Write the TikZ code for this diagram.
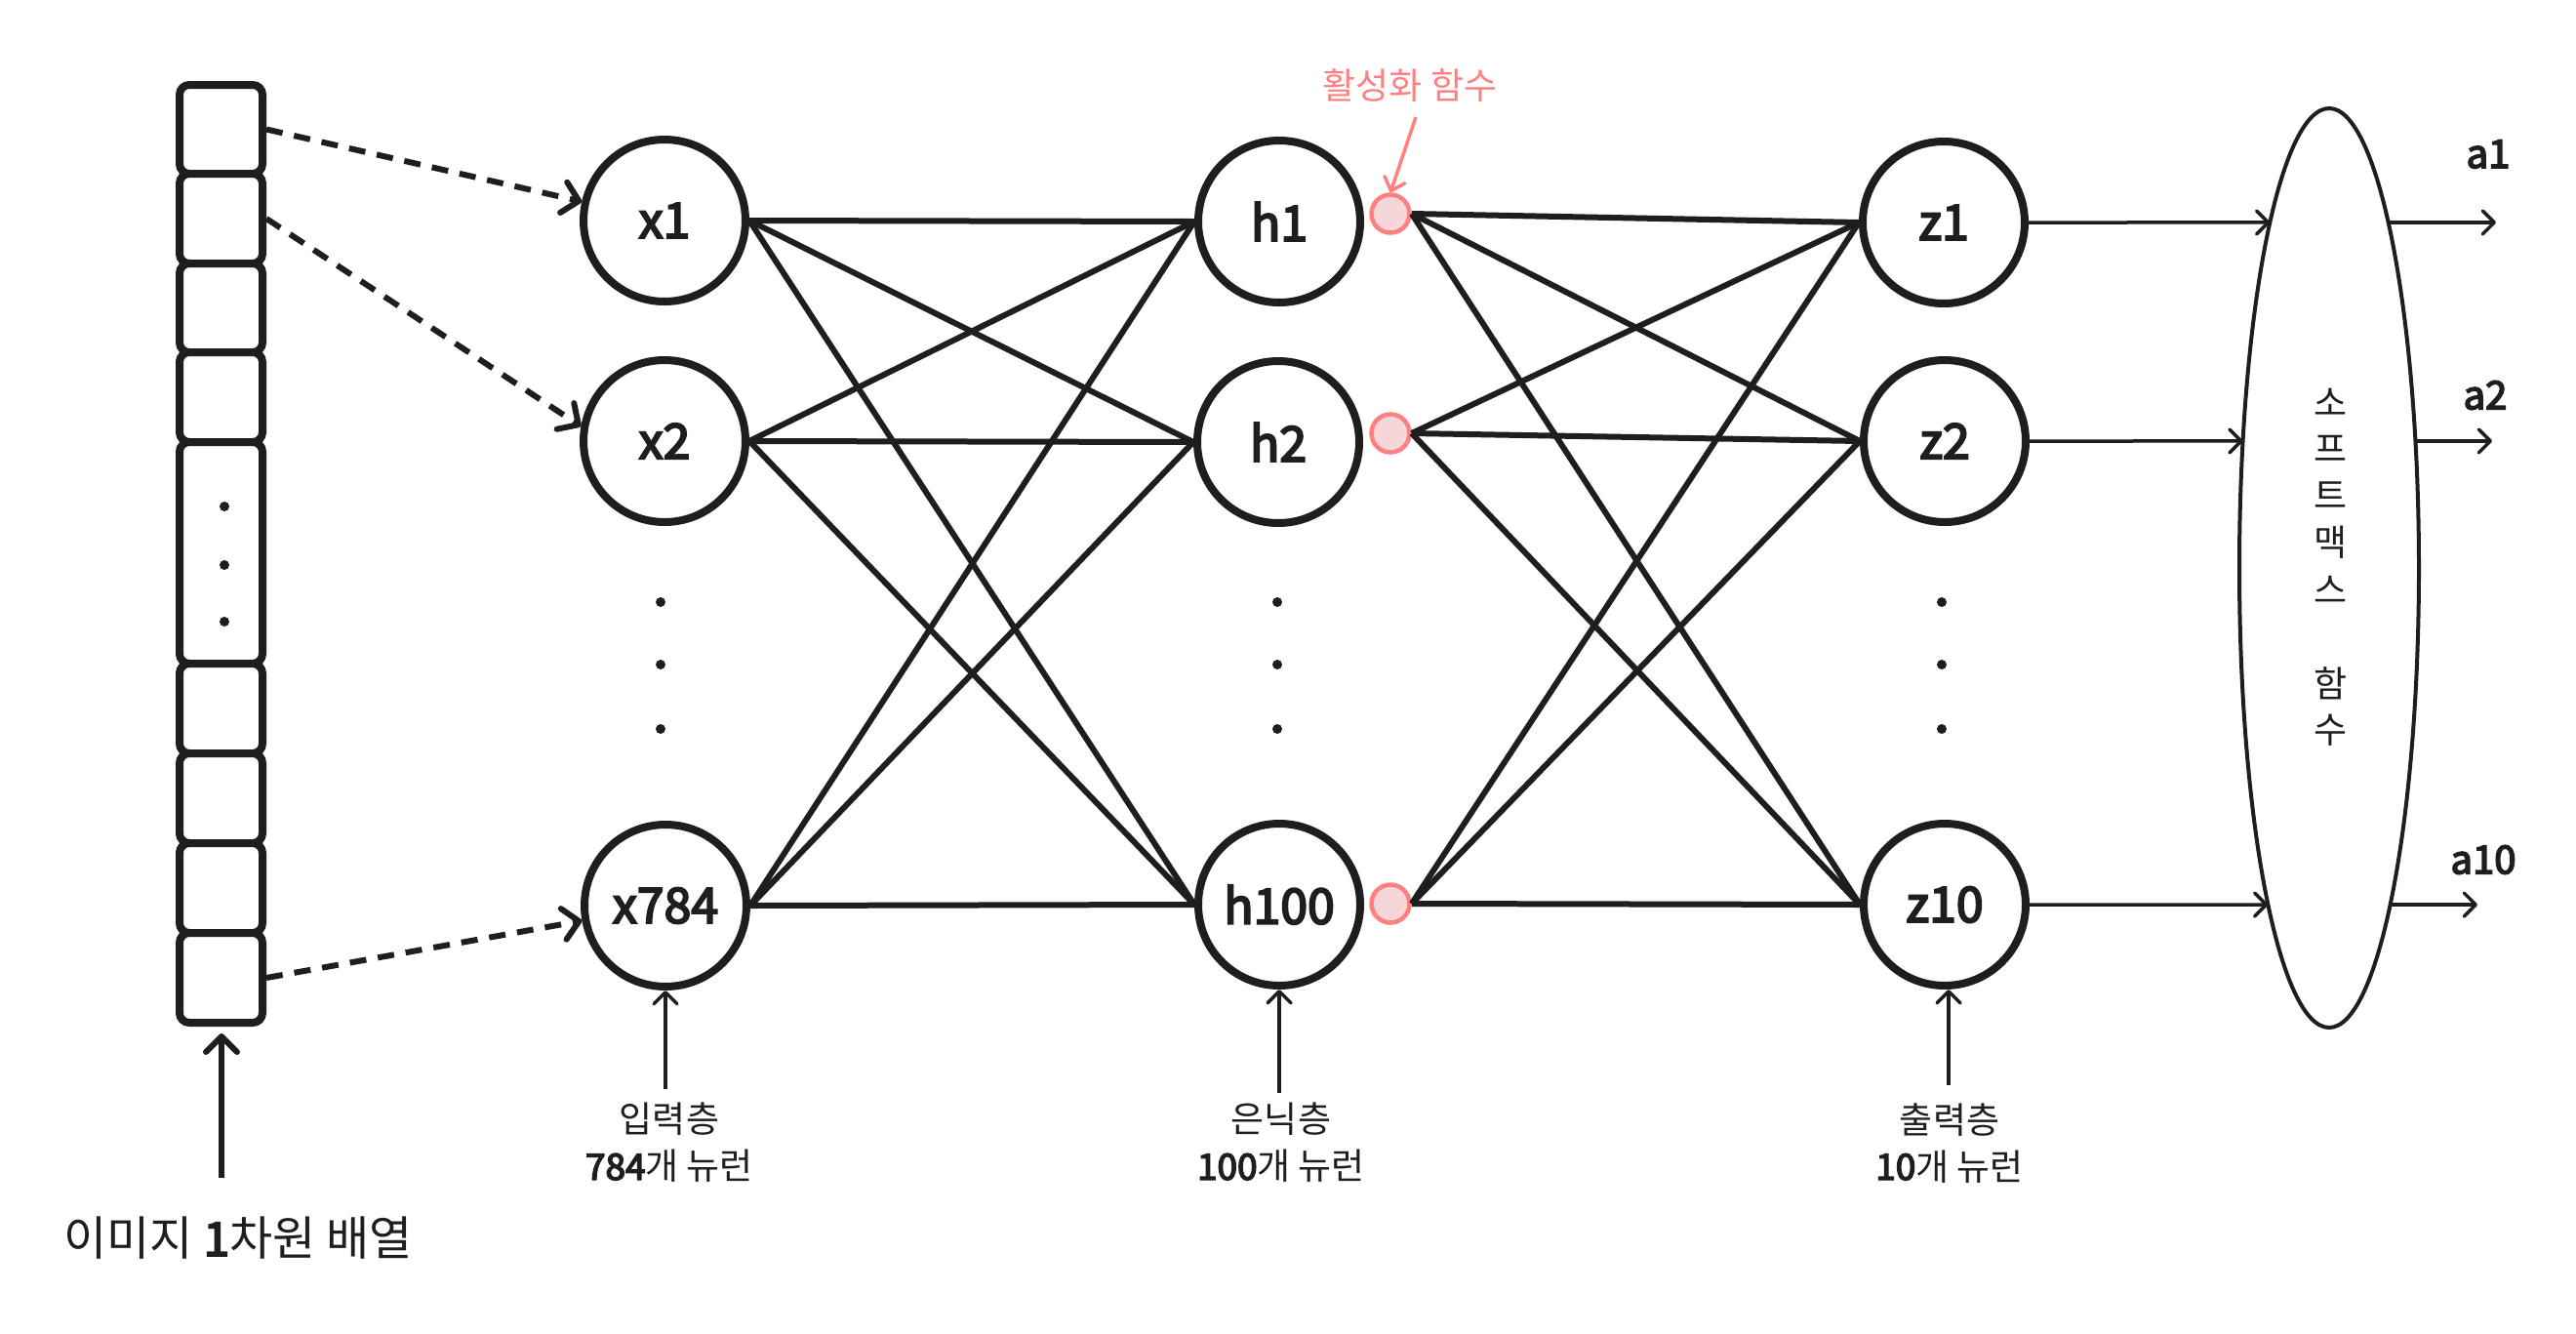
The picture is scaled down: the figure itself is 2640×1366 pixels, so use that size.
\documentclass[tikz,border=0pt]{standalone}
\usepackage{fontspec}
\setmainfont{Noto Sans CJK KR}
\newfontfamily\hand[FakeBold=4]{Noto Sans CJK KR}
\usetikzlibrary{arrows.meta,shapes.geometric,intersections}
\definecolor{ink}{HTML}{1E1E1E}
\definecolor{coral}{HTML}{FF8080}
\definecolor{pinkfill}{HTML}{F6D6D9}
\begin{document}
\begin{tikzpicture}[x=1pt,y=-1pt,
  neuron/.style={circle, draw=ink, line width=8pt, fill=white, minimum size=166pt, inner sep=0pt, font=\hand\fontsize{50}{56}\selectfont, text=ink},
  actc/.style={circle, draw=coral, line width=4.5pt, fill=pinkfill, minimum size=39pt, inner sep=0pt},
  cell/.style={rectangle, rounded corners=10pt, draw=ink, line width=8pt, fill=white, minimum width=85pt, inner sep=0pt},
  wire/.style={draw=ink, line width=6pt},
  dasharrow/.style={draw=ink, line width=6pt, dash pattern=on 17pt off 12pt, -{Straight Barb[length=16pt,width=32pt,line width=6pt,line cap=round,line join=round]}},
  thinarrow/.style={draw=ink, line width=3.5pt, -{Straight Barb[length=12pt,width=24pt,line width=3.5pt,line cap=round,line join=round]}},
  bigarrow/.style={draw=ink, line width=6pt, -{Straight Barb[length=16pt,width=32pt,line width=6pt,line cap=round,line join=round]}},
  redarrow/.style={draw=coral, line width=3.5pt, -{Straight Barb[length=12pt,width=22pt,line width=3.5pt,line cap=round,line join=round]}},
  softmax/.style={ellipse, draw=ink, line width=4pt, fill=white, minimum width=184pt, minimum height=942pt, inner sep=0pt},
  lbl/.style={font=\fontsize{37}{48}\selectfont, text=ink, align=center, inner sep=0pt},
  smch/.style={font=\fontsize{37}{40}\selectfont, text=ink, inner sep=0pt},
  outl/.style={font=\hand\fontsize{40}{44}\selectfont, text=ink, inner sep=0pt},
  dotc/.style={fill=ink}
]
\useasboundingbox[fill=white] (0,0) rectangle (2640,1366);

% image column
\foreach \n/\t/\b in {b1/87/178, b2/178/270, b3/270/361, b4/361/453, b5/453/680, b6/680/772, b7/772/864, b8/864/956, b9/956/1048}
  \node[cell, minimum height={\b-\t}] (\n) at (226.5, {(\t+\b)/2}) {};
\foreach \y in {519,579,637} \fill[dotc] (230,\y) circle (5pt);

% neurons
\node[neuron] (x1) at (681,226) {x1};
\node[neuron] (x2) at (681,452) {x2};
\node[neuron] (x784) at (682,928) {x784};
\node[neuron] (h1) at (1311,227) {h1};
\node[neuron] (h2) at (1310,453) {h2};
\node[neuron] (h100) at (1311,927) {h100};
\node[actc] (r1) at (1425,219) {};
\node[actc] (r2) at (1425,444) {};
\node[actc] (r100) at (1425,926) {};
\node[neuron] (z1) at (1992,228) {z1};
\node[neuron] (z2) at (1993,452) {z2};
\node[neuron] (z10) at (1993,927) {z10};

\foreach \x in {677,1309,1990}
  \foreach \y in {617,681,747} \fill[dotc] (\x,\y) circle (5pt);

% connections
\foreach \a in {x1,x2,x784}
  \foreach \b in {h1,h2,h100}
    \draw[wire] (\a.east) -- (\b.west);
\foreach \a in {r1,r2,r100}
  \foreach \b in {z1,z2,z10}
    \draw[wire] (\a.east) -- (\b.west);

% dashed arrows
\draw[dasharrow] (b1.east) -- (x1);
\draw[dasharrow] (b2.east) -- (x2.170);
\draw[dasharrow] (b9.east) -- (x784);

% softmax
\node[softmax, name path=smpath] (sm) at (2387,582) {};
\foreach \c/\y [count=\i] in {소/412, 프/460, 트/508, 맥/556, 스/604, 함/700, 수/748}
  \node[smch] (s\i) at (2388,\y) {\c};

\path[name path=hla] (z1.east) -- ++(700,0);
\path[name path=hlb] (z2.east) -- ++(700,0);
\path[name path=hlc] (z10.east) -- ++(700,0);
\path[name intersections={of=hla and smpath, sort by=hla, name=ia}];
\path[name intersections={of=hlb and smpath, sort by=hlb, name=ib}];
\path[name intersections={of=hlc and smpath, sort by=hlc, name=ic}];
\coordinate (oa) at (2558,0);
\coordinate (ob) at (2554,0);
\coordinate (oc) at (2539,0);
\draw[thinarrow] (z1.east) -- (ia-1);
\draw[thinarrow] (z2.east) -- (ib-1);
\draw[thinarrow] (z10.east) -- (ic-1);
\draw[thinarrow] (ia-2) -- (ia-2 -| oa);
\draw[thinarrow] (ib-2) -- (ib-2 -| ob);
\draw[thinarrow] (ic-2) -- (ic-2 -| oc);

\node[outl] (a1) at (2550,158) {a1};
\node[outl] (a2) at (2547,405) {a2};
\node[outl] (a10) at (2545,881) {a10};

% activation label
\node[font=\fontsize{37}{40}\selectfont, text=coral, inner sep=0pt] (act) at (1445,87) {활성화 함수};
\coordinate (acttail) at (1451,120);
\draw[redarrow] (acttail) -- (r1.north);

% layer labels
\node[lbl, anchor=north] (labin) at (686,1130) {입력층\\{\hand 784}개 뉴런};
\node[lbl, anchor=north] (labh) at (1313,1130) {은닉층\\{\hand 100}개 뉴런};
\node[lbl, anchor=north] (labz) at (1998,1130) {출력층\\{\hand 10}개 뉴런};
\coordinate (tin) at (682,1116);
\coordinate (th) at (1311,1120);
\coordinate (tz) at (1997,1112);
\draw[thinarrow] (tin) -- (tin |- x784.south);
\draw[thinarrow] (th) -- (th |- h100.south);
\draw[thinarrow] (tz) -- (tz |- z10.south);

% image label
\node[font=\fontsize{48}{56}\selectfont, text=ink, inner sep=0pt] (imglab) at (244,1269) {이미지 {\hand 1}차원 배열};
\coordinate (bigtail) at (227,1207);
\draw[bigarrow, shorten >=7pt] (bigtail) -- (bigtail |- b9.south);
\end{tikzpicture}
\end{document}
